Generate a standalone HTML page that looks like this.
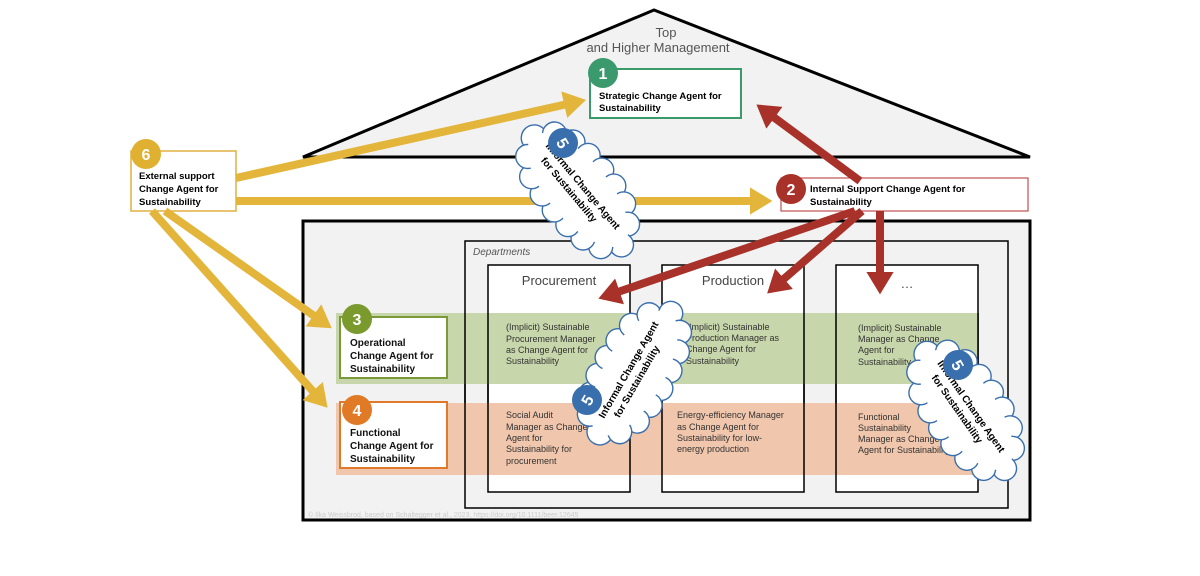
<!DOCTYPE html>
<html><head><style>
body{margin:0;background:#fff;width:1200px;height:571px;overflow:hidden}
svg text{font-family:"Liberation Sans",sans-serif}
</style></head><body>
<svg width="1200" height="571" viewBox="0 0 1200 571" xmlns="http://www.w3.org/2000/svg">
<defs>
<marker id="ya" markerWidth="3.5" markerHeight="3.4" refX="1" refY="1.7" orient="auto" markerUnits="strokeWidth"><path d="M0,0 L2.8,1.7 L0,3.4 Z" fill="#e3b53a"/></marker>
<marker id="ra" markerWidth="3.5" markerHeight="3.4" refX="1" refY="1.7" orient="auto" markerUnits="strokeWidth"><path d="M0,0 L2.8,1.7 L0,3.4 Z" fill="#a8322a"/></marker>
<g id="cloud">
<g fill="#fff" stroke="#3a6fad" stroke-width="1.4">
<circle cx="-68" cy="0" r="13"/><circle cx="-58" cy="-18" r="12"/><circle cx="-40" cy="-27" r="12"/><circle cx="-20" cy="-30" r="12"/><circle cx="0" cy="-31" r="12"/><circle cx="20" cy="-30" r="12"/><circle cx="40" cy="-26" r="12"/><circle cx="58" cy="-16" r="12"/><circle cx="70" cy="2" r="12"/><circle cx="58" cy="19" r="12"/><circle cx="40" cy="27" r="12"/><circle cx="20" cy="30" r="12"/><circle cx="0" cy="31" r="12"/><circle cx="-20" cy="30" r="12"/><circle cx="-40" cy="27" r="12"/><circle cx="-58" cy="17" r="12"/>
</g>
<ellipse cx="0" cy="0" rx="70" ry="30" fill="#fff"/>
</g>
</defs>
<polygon points="654,10 303,157 1030,157" fill="#f2f2f2" stroke="#000" stroke-width="3"/>
<text x="666" y="37" font-size="13" fill="#555" text-anchor="middle">Top</text>
<text x="658" y="52" font-size="13" fill="#555" text-anchor="middle">and Higher Management</text>
<rect x="303" y="221" width="727" height="299" fill="#f2f2f2" stroke="#000" stroke-width="3"/>
<rect x="465" y="241" width="543" height="267" fill="#f2f2f2" stroke="#000" stroke-width="1.5"/>
<text x="473" y="255" font-size="10" font-style="italic" fill="#555">Departments</text>
<rect x="488" y="265" width="142" height="227" fill="#fff" stroke="#000" stroke-width="1.5"/>
<rect x="662" y="265" width="142" height="227" fill="#fff" stroke="#000" stroke-width="1.5"/>
<rect x="836" y="265" width="142" height="227" fill="#fff" stroke="#000" stroke-width="1.5"/>
<rect x="336" y="313" width="642" height="71" fill="#c5d4a7" opacity="0.95"/>
<rect x="336" y="403" width="642" height="72" fill="#efc3a8" opacity="0.95"/>
<g stroke="#000" stroke-width="1.5">
<line x1="488" y1="313" x2="488" y2="475"/><line x1="630" y1="313" x2="630" y2="475"/>
<line x1="662" y1="313" x2="662" y2="475"/><line x1="804" y1="313" x2="804" y2="475"/>
<line x1="836" y1="313" x2="836" y2="475"/><line x1="978" y1="313" x2="978" y2="475"/>
<line x1="465" y1="313" x2="465" y2="475"/></g>
<text x="559" y="285" font-size="13" fill="#444" text-anchor="middle">Procurement</text>
<text x="733" y="285" font-size="13" fill="#444" text-anchor="middle">Production</text>
<text x="907" y="288" font-size="13" fill="#444" text-anchor="middle">…</text>
<g font-size="9" fill="#333">
<text x="506" y="330">(Implicit) Sustainable</text><text x="506" y="342">Procurement Manager</text><text x="506" y="353">as Change Agent for</text><text x="506" y="364">Sustainability</text>
<text x="686" y="330">(Implicit) Sustainable</text><text x="686" y="341">Production Manager as</text><text x="686" y="352">Change Agent for</text><text x="686" y="364">Sustainability</text>
<text x="858" y="331">(Implicit) Sustainable</text><text x="858" y="342">Manager as Change</text><text x="858" y="353">Agent for</text><text x="858" y="365">Sustainability</text>
<text x="506" y="418">Social Audit</text><text x="506" y="430">Manager as Change</text><text x="506" y="441">Agent for</text><text x="506" y="452">Sustainability for</text><text x="506" y="464">procurement</text>
<text x="677" y="418">Energy-efficiency Manager</text><text x="677" y="430">as Change Agent for</text><text x="677" y="441">Sustainability for low-</text><text x="677" y="452">energy production</text>
<text x="858" y="420">Functional</text><text x="858" y="431">Sustainability</text><text x="858" y="442">Manager as Change</text><text x="858" y="453">Agent for Sustainability</text>
</g>
<text x="308" y="517" font-size="7" fill="#ccc" font-family="Liberation Serif">© Ilka Weissbrod, based on Schaltegger et al., 2023, https://doi.org/10.1111/beer.12645</text>
<rect x="340" y="317" width="107" height="61" fill="#fff" stroke="#7a9a3a" stroke-width="2"/>
<rect x="340" y="402" width="107" height="66" fill="#fff" stroke="#e07a2a" stroke-width="2"/>
<g font-size="10" font-weight="bold" fill="#111">
<text x="350" y="346">Operational</text><text x="350" y="359">Change Agent for</text><text x="350" y="372">Sustainability</text>
<text x="350" y="436">Functional</text><text x="350" y="449">Change Agent for</text><text x="350" y="462">Sustainability</text>
</g>
<rect x="590" y="69" width="151" height="49" fill="#fff" stroke="#3a9a6a" stroke-width="2"/>
<text x="599" y="99" font-size="9.5" font-weight="bold">Strategic Change Agent for</text>
<text x="599" y="111" font-size="9.5" font-weight="bold">Sustainability</text>
<rect x="781" y="178" width="247" height="33" fill="#fff" stroke="#c05050" stroke-width="1.2"/>
<text x="810" y="192" font-size="9.5" font-weight="bold">Internal Support Change Agent for</text>
<text x="810" y="205" font-size="9.5" font-weight="bold">Sustainability</text>
<rect x="131" y="151" width="105" height="60" fill="#fff" stroke="#e0b040" stroke-width="1.5"/>
<g font-size="9.5" font-weight="bold"><text x="139" y="179">External support</text><text x="139" y="192">Change Agent for</text><text x="139" y="205">Sustainability</text></g>
<g stroke="#e3b53a" stroke-width="8" fill="none">
<line x1="236" y1="178" x2="572" y2="103" marker-end="url(#ya)"/>
<line x1="236" y1="201" x2="758" y2="201" marker-end="url(#ya)"/>
<line x1="165" y1="211" x2="320" y2="320" marker-end="url(#ya)"/>
<line x1="152" y1="211" x2="318" y2="397" marker-end="url(#ya)"/>
</g>
<g stroke="#a8322a" stroke-width="8" fill="none">
<line x1="860" y1="181" x2="768" y2="113" marker-end="url(#ra)"/>
<line x1="855" y1="211" x2="612" y2="294" marker-end="url(#ra)"/>
<line x1="862" y1="211" x2="778" y2="284" marker-end="url(#ra)"/>
<line x1="880" y1="211" x2="880" y2="280" marker-end="url(#ra)"/>
</g>
<g transform="translate(578,190) rotate(50)"><use href="#cloud"/>
<text x="0" y="-3" font-size="10" font-weight="bold" text-anchor="middle">Informal Change Agent</text>
<text x="-6" y="10" font-size="10" font-weight="bold" text-anchor="middle">for Sustainability</text></g>
<g transform="translate(634,373) rotate(-60)"><use href="#cloud"/>
<text x="0" y="-3" font-size="10" font-weight="bold" text-anchor="middle">Informal Change Agent</text>
<text x="-6" y="10" font-size="10" font-weight="bold" text-anchor="middle">for Sustainability</text></g>
<g transform="translate(966,410) rotate(55)"><use href="#cloud"/>
<text x="0" y="-3" font-size="10" font-weight="bold" text-anchor="middle">Informal Change Agent</text>
<text x="-6" y="10" font-size="10" font-weight="bold" text-anchor="middle">for Sustainability</text></g>
<g font-size="16" font-weight="bold" fill="#fff" text-anchor="middle">
<circle cx="603" cy="73" r="15" fill="#3a9a6e"/><text x="603" y="79">1</text>
<circle cx="791" cy="189" r="15" fill="#a8322a"/><text x="791" y="195">2</text>
<circle cx="357" cy="319" r="15" fill="#7a9a2e"/><text x="357" y="325">3</text>
<circle cx="357" cy="410" r="15" fill="#e07a26"/><text x="357" y="416">4</text>
<circle cx="146" cy="154" r="15" fill="#e0b030"/><text x="146" y="160">6</text>
<circle cx="563" cy="143" r="15" fill="#3a6fad"/><text x="563" y="149" transform="rotate(60 563 143)">5</text>
<circle cx="587" cy="400" r="15" fill="#3a6fad"/><text x="587" y="406" transform="rotate(-60 587 400)">5</text>
<circle cx="958" cy="365" r="15" fill="#3a6fad"/><text x="958" y="371" transform="rotate(60 958 365)">5</text>
</g>
</svg>
</body></html>
